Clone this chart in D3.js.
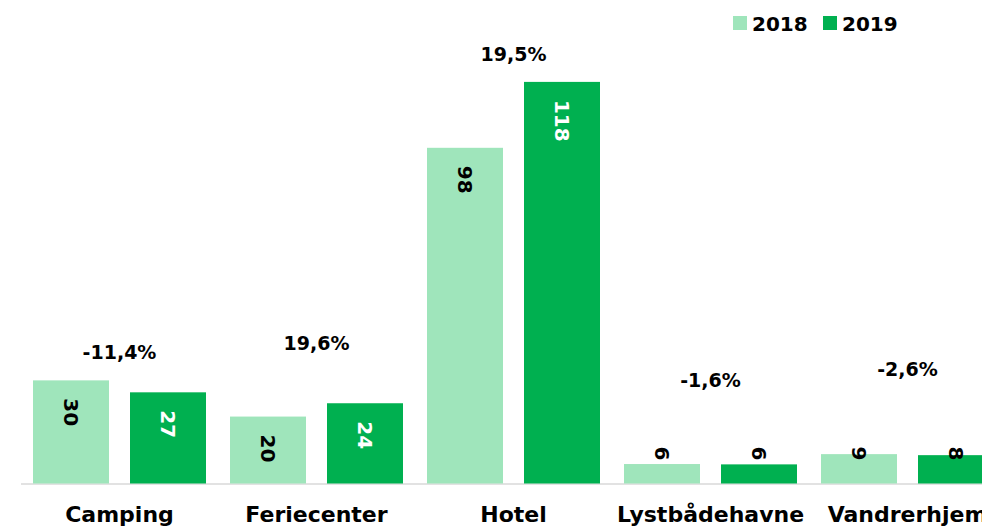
<!DOCTYPE html>
<html><head><meta charset="utf-8">
<script src="https://cdn.jsdelivr.net/npm/d3@7"></script>
<style>
html,body{margin:0;padding:0;background:#fff;overflow:hidden}
svg{display:block}
text{font-family:"DejaVu Sans",sans-serif;font-weight:bold}
</style></head>
<body><svg id="c" width="982" height="527"></svg>
<script>
const categories = ["Camping","Feriecenter","Hotel","Lystbådehavne","Vandrerhjem"];
const seriesNames = ["2018","2019"];
const values2018 = [30.2, 19.6, 98.3, 5.7, 8.6];
const values2019 = [26.7, 23.5, 117.6, 5.6, 8.3];
const changeLabels = ["-11,4%","19,6%","19,5%","-1,6%","-2,6%"];
const changeLabelLevels = [36.6, 39.2, 123.6, 28.4, 31.6];
const colors = ["#9fe5bb","#00b050"];

const svg = d3.select("#c");
const W = 982, H = 527;
const x0 = d3.scaleBand().domain(categories).range([21, 1006]).paddingInner(0).paddingOuter(0);
const x1 = d3.scaleBand().domain(seriesNames).range([12, 185]).paddingInner(0.2165).paddingOuter(0);
const y = d3.scaleLinear().domain([0, 140]).range([483.5, 483.5 - 140*3.415]);

const data = categories.map((c,i)=>({cat:c, vals:[values2018[i], values2019[i]]}));

// baseline axis line
svg.append("line").attr("x1",21).attr("x2",W).attr("y1",y(0)+0.5).attr("y2",y(0)+0.5)
  .attr("stroke","#d9d9d9").attr("stroke-width",1.5);

const g = svg.selectAll("g.cat").data(data).join("g").attr("class","cat")
  .attr("transform",d=>`translate(${x0(d.cat)},0)`);

g.selectAll("rect").data(d=>d.vals.map((v,j)=>({v, s:seriesNames[j], j}))).join("rect")
  .attr("x",d=>x1(d.s)).attr("width",x1.bandwidth())
  .attr("y",d=>y(d.v)).attr("height",d=>y(0)-y(d.v))
  .attr("fill",d=>colors[d.j]);

g.selectAll("text.val").data(d=>d.vals.map((v,j)=>({v, s:seriesNames[j], j}))).join("text")
  .attr("class","val")
  .each(function(d){
    const cx = x1(d.s) + x1.bandwidth()/2;
    const label = d3.format(".0f")(d.v);
    const inside = (y(0)-y(d.v)) > 60;
    const t = d3.select(this).text(label).attr("font-size",20)
      .attr("dominant-baseline","central");
    if (inside) {
      t.attr("text-anchor","start")
       .attr("transform",`translate(${cx},${y(d.v)+18}) rotate(90)`)
       .attr("fill", d.j===1 ? "#ffffff" : "#000000");
    } else {
      t.attr("text-anchor","end")
       .attr("transform",`translate(${cx},${y(0)-23}) rotate(90)`)
       .attr("fill","#000000");
    }
  });

// change labels
svg.selectAll("text.chg").data(categories).join("text").attr("class","chg")
  .attr("x",d=>x0(d)+x0.bandwidth()/2)
  .attr("y",(d,i)=>y(changeLabelLevels[i]))
  .attr("text-anchor","middle").attr("font-size",19).attr("fill","#000")
  .text((d,i)=>changeLabels[i]);

// category labels
svg.selectAll("text.catl").data(categories).join("text").attr("class","catl")
  .attr("x",d=>x0(d)+x0.bandwidth()/2).attr("y",522)
  .attr("text-anchor","middle").attr("font-size",22).attr("fill","#000")
  .text(d=>d);

// legend
const legX = [733, 823];
const leg = svg.selectAll("g.leg").data(seriesNames).join("g").attr("class","leg")
  .attr("transform",(d,i)=>`translate(${legX[i]},16)`);
leg.append("rect").attr("width",14).attr("height",14).attr("fill",(d,i)=>colors[i]);
leg.append("text").attr("x",19).attr("y",15).attr("font-size",20).attr("fill","#000").text(d=>d);
</script>
</body></html>
